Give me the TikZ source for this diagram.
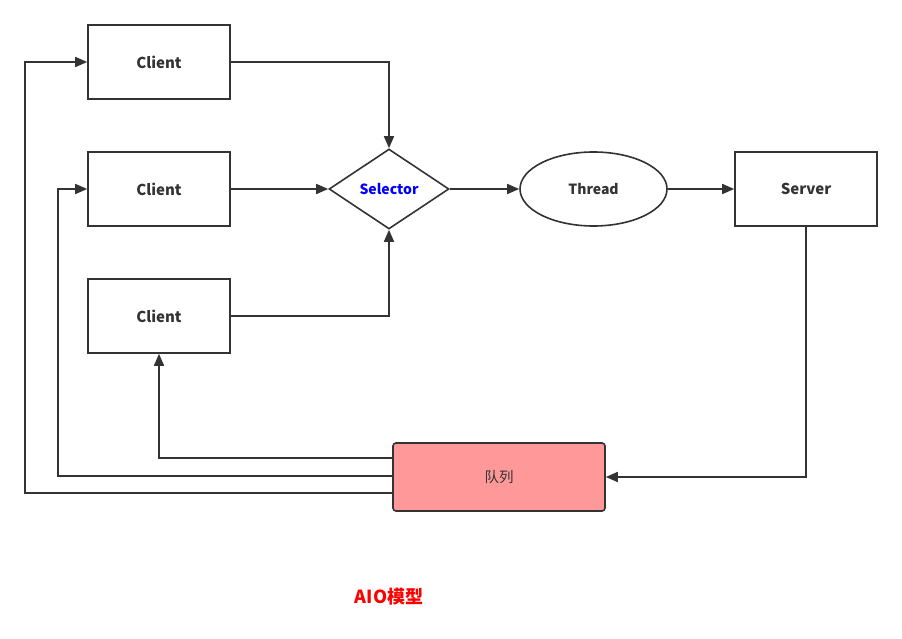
\documentclass[tikz,border=0pt]{standalone}
\usepackage{fontspec}
\setmainfont{Noto Sans CJK SC}
\usetikzlibrary{shapes.geometric,arrows.meta}
\definecolor{ln}{HTML}{333333}
\definecolor{qfill}{HTML}{FF9999}
\newcommand{\lowtxt}[1]{\raisebox{-1.5pt}{#1}}
\tikzset{
  box/.style={draw=ln,line width=1.6pt,minimum width=142pt,minimum height=74pt,inner sep=0pt,font=\bfseries\fontsize{15}{18}\selectfont,text=ln},
  conn/.style={draw=ln,line width=1.6pt,-{Triangle[length=12pt,width=10pt]}},
}
\begin{document}
\begin{tikzpicture}[x=1pt,y=-1pt]
\useasboundingbox[fill=white] (0,0) rectangle (902,639);
\node[box] (c1) at (159,62) {\lowtxt{Client}};
\node[box] (c2) at (159,189) {\lowtxt{Client}};
\node[box] (c3) at (159,316) {\lowtxt{Client}};
\node[draw=ln,line width=1.6pt,diamond,aspect=1.5,minimum width=120pt,minimum height=80pt,inner sep=0pt,text=blue,font=\bfseries\fontsize{14}{16}\selectfont] (sel) at (389,189) {\lowtxt{Selector}};
\node[draw=ln,line width=1.6pt,ellipse,minimum width=147pt,minimum height=74pt,inner sep=0pt,text=ln,font=\bfseries\fontsize{14}{16}\selectfont] (th) at (593.5,189) {\lowtxt{Thread}};
\node[box] (srv) at (806,189) {\lowtxt{Server}};
\node[draw=ln,line width=1.6pt,fill=qfill,rounded corners=3pt,minimum width=212pt,minimum height=68pt,inner sep=0pt,text=ln,font=\fontsize{14.5}{16}\selectfont] (q) at (499,477) {\lowtxt{队列}};
\node[text=red,font=\bfseries\fontsize{18}{20}\selectfont] (title) at (389,597) {\lowtxt{AIO模型}};
\draw[conn] (c1.east) -| (sel.north);
\draw[conn] (c2.east) -- (sel.west);
\draw[conn] (c3.east) -| (sel.south);
\draw[conn] (sel.east) -- (th.west);
\draw[conn] (th.east) -- (srv.west);
\draw[conn] (srv.south) |- (q.east);
\coordinate (qa) at (q.west |- 0,458);
\coordinate (qb) at (q.west |- 0,476);
\coordinate (qc) at (q.west |- 0,493);
\draw[conn] (qa) -| (c3.south);
\draw[conn] (qb) -- (58,476) |- (c2.west);
\draw[conn] (qc) -- (25,493) |- (c1.west);
\end{tikzpicture}
\end{document}
